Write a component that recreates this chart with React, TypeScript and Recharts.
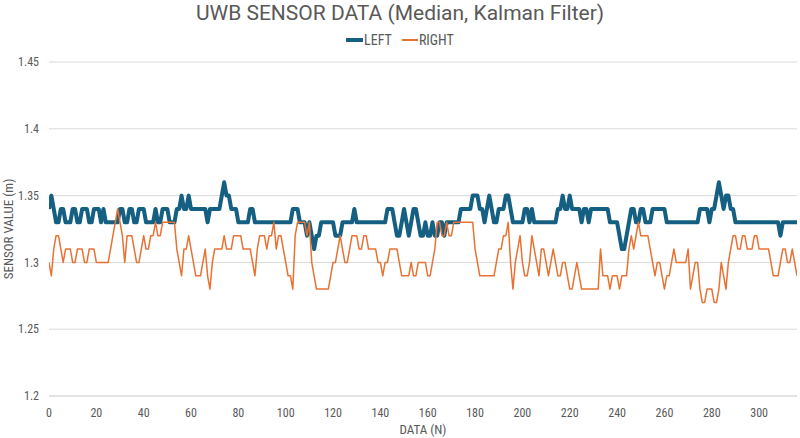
import React from 'react';
import { LineChart, Line, XAxis, YAxis, CartesianGrid, Label } from 'recharts';

const TITLE = 'UWB SENSOR DATA (Median, Kalman Filter)';
const X_TITLE = 'DATA (N)';
const Y_TITLE = 'SENSOR VALUE (m)';
const SERIES_NAMES = ['LEFT', 'RIGHT'];
const X_TICKS = [0, 20, 40, 60, 80, 100, 120, 140, 160, 180, 200, 220, 240, 260, 280, 300];
const Y_TICKS = [1.2, 1.25, 1.3, 1.35, 1.4, 1.45];

const LEFT = [
  1.34, 1.35, 1.34, 1.33, 1.33, 1.34, 1.34, 1.33, 1.33, 1.33,
  1.34, 1.34, 1.33, 1.33, 1.34, 1.34, 1.34, 1.33, 1.33, 1.34,
  1.34, 1.34, 1.33, 1.34, 1.33, 1.33, 1.33, 1.33, 1.33, 1.33,
  1.34, 1.34, 1.33, 1.33, 1.34, 1.34, 1.33, 1.33, 1.34, 1.34,
  1.34, 1.33, 1.33, 1.33, 1.33, 1.34, 1.33, 1.33, 1.34, 1.34,
  1.34, 1.33, 1.33, 1.33, 1.34, 1.34, 1.35, 1.34, 1.34, 1.35,
  1.34, 1.34, 1.34, 1.34, 1.34, 1.34, 1.34, 1.33, 1.34, 1.34,
  1.34, 1.34, 1.34, 1.35, 1.36, 1.35, 1.35, 1.34, 1.34, 1.34,
  1.33, 1.33, 1.33, 1.33, 1.33, 1.34, 1.34, 1.33, 1.33, 1.33,
  1.33, 1.33, 1.33, 1.33, 1.33, 1.33, 1.33, 1.33, 1.33, 1.33,
  1.33, 1.33, 1.33, 1.34, 1.34, 1.34, 1.33, 1.33, 1.33, 1.32,
  1.33, 1.32, 1.31, 1.32, 1.32, 1.33, 1.33, 1.33, 1.33, 1.33,
  1.33, 1.32, 1.32, 1.32, 1.33, 1.33, 1.33, 1.33, 1.33, 1.34,
  1.33, 1.33, 1.33, 1.33, 1.33, 1.33, 1.33, 1.33, 1.33, 1.33,
  1.33, 1.33, 1.33, 1.34, 1.34, 1.34, 1.33, 1.32, 1.32, 1.33,
  1.34, 1.33, 1.32, 1.33, 1.34, 1.34, 1.33, 1.32, 1.32, 1.33,
  1.32, 1.32, 1.33, 1.32, 1.32, 1.33, 1.33, 1.32, 1.33, 1.33,
  1.33, 1.33, 1.33, 1.33, 1.34, 1.34, 1.34, 1.34, 1.34, 1.35,
  1.35, 1.35, 1.34, 1.34, 1.33, 1.34, 1.35, 1.34, 1.33, 1.33,
  1.34, 1.34, 1.34, 1.35, 1.35, 1.34, 1.33, 1.33, 1.33, 1.33,
  1.33, 1.34, 1.34, 1.33, 1.34, 1.33, 1.33, 1.33, 1.33, 1.33,
  1.33, 1.33, 1.33, 1.33, 1.33, 1.34, 1.34, 1.35, 1.34, 1.34,
  1.35, 1.34, 1.34, 1.34, 1.34, 1.33, 1.34, 1.34, 1.33, 1.34,
  1.34, 1.34, 1.34, 1.34, 1.34, 1.34, 1.34, 1.33, 1.33, 1.33,
  1.33, 1.32, 1.31, 1.31, 1.32, 1.33, 1.34, 1.34, 1.33, 1.33,
  1.34, 1.34, 1.33, 1.33, 1.33, 1.34, 1.34, 1.34, 1.34, 1.34,
  1.34, 1.33, 1.33, 1.33, 1.33, 1.33, 1.33, 1.33, 1.33, 1.33,
  1.33, 1.33, 1.33, 1.33, 1.33, 1.34, 1.34, 1.34, 1.34, 1.33,
  1.34, 1.34, 1.35, 1.36, 1.35, 1.34, 1.35, 1.35, 1.34, 1.34,
  1.33, 1.33, 1.33, 1.33, 1.33, 1.33, 1.33, 1.33, 1.33, 1.33,
  1.33, 1.33, 1.33, 1.33, 1.33, 1.33, 1.33, 1.33, 1.33, 1.32,
  1.33, 1.33, 1.33, 1.33, 1.33, 1.33, 1.33,
];

const RIGHT = [
  1.30, 1.29, 1.31, 1.32, 1.32, 1.31, 1.30, 1.31, 1.31, 1.31,
  1.30, 1.30, 1.31, 1.31, 1.31, 1.30, 1.30, 1.31, 1.31, 1.31,
  1.30, 1.30, 1.30, 1.30, 1.30, 1.30, 1.31, 1.32, 1.33, 1.34,
  1.33, 1.32, 1.30, 1.32, 1.32, 1.32, 1.31, 1.30, 1.30, 1.31,
  1.32, 1.31, 1.31, 1.32, 1.32, 1.33, 1.32, 1.32, 1.33, 1.33,
  1.33, 1.33, 1.33, 1.33, 1.31, 1.30, 1.29, 1.31, 1.31, 1.32,
  1.31, 1.30, 1.29, 1.29, 1.29, 1.30, 1.31, 1.29, 1.28, 1.30,
  1.31, 1.31, 1.31, 1.31, 1.32, 1.31, 1.31, 1.31, 1.32, 1.32,
  1.32, 1.32, 1.31, 1.31, 1.31, 1.31, 1.30, 1.29, 1.31, 1.32,
  1.32, 1.32, 1.31, 1.32, 1.32, 1.33, 1.31, 1.32, 1.32, 1.31,
  1.30, 1.29, 1.29, 1.28, 1.32, 1.33, 1.33, 1.33, 1.33, 1.32,
  1.33, 1.30, 1.29, 1.28, 1.28, 1.28, 1.28, 1.28, 1.28, 1.29,
  1.30, 1.30, 1.31, 1.32, 1.31, 1.30, 1.30, 1.31, 1.32, 1.32,
  1.32, 1.31, 1.31, 1.32, 1.32, 1.31, 1.31, 1.31, 1.31, 1.30,
  1.30, 1.29, 1.30, 1.30, 1.31, 1.31, 1.31, 1.31, 1.30, 1.29,
  1.29, 1.29, 1.29, 1.30, 1.29, 1.29, 1.30, 1.30, 1.30, 1.30,
  1.29, 1.29, 1.30, 1.31, 1.33, 1.33, 1.32, 1.32, 1.33, 1.32,
  1.32, 1.33, 1.33, 1.33, 1.33, 1.33, 1.33, 1.33, 1.33, 1.33,
  1.31, 1.30, 1.29, 1.29, 1.29, 1.29, 1.29, 1.29, 1.29, 1.30,
  1.31, 1.31, 1.32, 1.32, 1.33, 1.30, 1.28, 1.30, 1.31, 1.32,
  1.30, 1.29, 1.29, 1.30, 1.32, 1.31, 1.30, 1.29, 1.31, 1.31,
  1.30, 1.29, 1.30, 1.31, 1.30, 1.29, 1.29, 1.30, 1.30, 1.29,
  1.28, 1.28, 1.29, 1.30, 1.29, 1.28, 1.28, 1.28, 1.28, 1.28,
  1.28, 1.28, 1.28, 1.31, 1.29, 1.29, 1.29, 1.28, 1.29, 1.29,
  1.29, 1.28, 1.29, 1.29, 1.29, 1.31, 1.32, 1.31, 1.32, 1.33,
  1.32, 1.32, 1.32, 1.32, 1.31, 1.30, 1.29, 1.30, 1.30, 1.29,
  1.28, 1.29, 1.29, 1.30, 1.31, 1.30, 1.30, 1.30, 1.30, 1.30,
  1.31, 1.28, 1.29, 1.30, 1.30, 1.28, 1.27, 1.27, 1.28, 1.28,
  1.28, 1.27, 1.27, 1.28, 1.30, 1.29, 1.28, 1.30, 1.31, 1.32,
  1.32, 1.31, 1.31, 1.32, 1.32, 1.31, 1.31, 1.31, 1.32, 1.32,
  1.31, 1.31, 1.31, 1.31, 1.31, 1.30, 1.29, 1.29, 1.29, 1.30,
  1.31, 1.31, 1.30, 1.30, 1.31, 1.30, 1.29,
];

const LEFT_COLOR = '#156082';
const RIGHT_COLOR = '#E97132';
const TEXT_COLOR = '#595959';
const FONT = '"Liberation Sans Narrow", "Roboto Condensed", Roboto, "Noto Sans", sans-serif';
const TITLE_FONT = 'Roboto, "Noto Sans", sans-serif';

const data = LEFT.map((v, i) => ({ n: i, left: v, right: RIGHT[i] }));

export default function App() {
  return (
    <div style={{ position: 'absolute', left: 0, top: 0, width: 800, height: 438, background: '#fff', fontFamily: FONT, overflow: 'hidden' }}>
      <LineChart width={800} height={438} data={data} margin={{ top: 62, right: 3, bottom: 0, left: 0 }} style={{ fontFamily: FONT }}>
        <CartesianGrid vertical={false} stroke="#D9D9D9" strokeWidth={1} />
        <XAxis
          dataKey="n"
          type="number"
          domain={[0, 316]}
          ticks={X_TICKS}
          allowDataOverflow
          axisLine={{ stroke: '#D9D9D9' }}
          tickLine={false}
          tick={{ fill: TEXT_COLOR, fontSize: 12 }}
          tickMargin={6}
          height={42}
        >
          <Label value={X_TITLE} position="insideBottom" offset={4} fill={TEXT_COLOR} fontSize={13} />
        </XAxis>
        <YAxis
          type="number"
          domain={[1.2, 1.45]}
          ticks={Y_TICKS}
          allowDataOverflow
          width={49}
          axisLine={false}
          tickLine={false}
          tickMargin={4}
          tick={{ fill: TEXT_COLOR, fontSize: 12 }}
        />
        <Line type="linear" dataKey="left" name={SERIES_NAMES[0]} stroke={LEFT_COLOR} strokeWidth={4} strokeLinejoin="round" dot={false} activeDot={false} isAnimationActive={false} />
        <Line type="linear" dataKey="right" name={SERIES_NAMES[1]} stroke={RIGHT_COLOR} strokeWidth={1.5} strokeLinejoin="round" dot={false} activeDot={false} isAnimationActive={false} />
      </LineChart>
      <div style={{ position: 'absolute', left: 0, top: 0, width: 800, textAlign: 'center', fontFamily: TITLE_FONT, fontSize: 21, lineHeight: '26px', color: TEXT_COLOR }}>
        {TITLE}
      </div>
      <div style={{ position: 'absolute', left: 0, top: 32, width: 800, display: 'flex', justifyContent: 'center', alignItems: 'center', fontSize: 14, color: TEXT_COLOR, lineHeight: '16px' }}>
        <span style={{ display: 'inline-block', width: 17, height: 4, background: LEFT_COLOR, marginRight: 1 }} />
        <span style={{ marginRight: 10 }}>{SERIES_NAMES[0]}</span>
        <span style={{ display: 'inline-block', width: 16, height: 2, background: RIGHT_COLOR, marginRight: 1 }} />
        <span>{SERIES_NAMES[1]}</span>
      </div>
      <div style={{ position: 'absolute', left: 8, top: 229, transform: 'translate(-50%, -50%) rotate(-90deg)', whiteSpace: 'nowrap', fontSize: 13, color: TEXT_COLOR }}>
        {Y_TITLE}
      </div>
    </div>
  );
}
